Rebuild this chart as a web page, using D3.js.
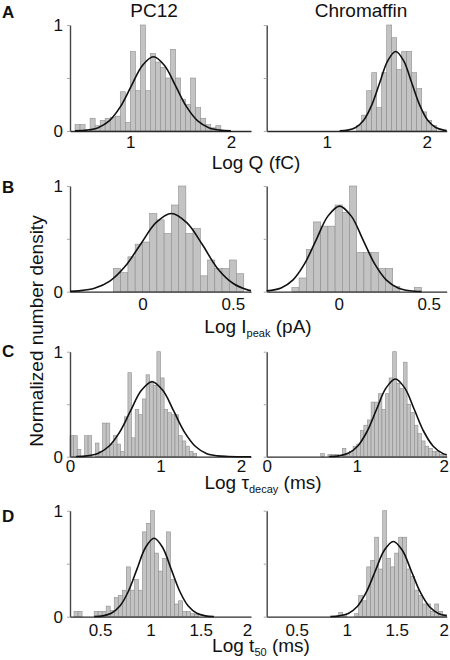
<!DOCTYPE html>
<html><head><meta charset="utf-8">
<script src="https://cdn.jsdelivr.net/npm/d3@7"></script>
<style>
body{margin:0;background:#fff}
svg{display:block}
text{font-family:"Liberation Sans",Arial,Helvetica,sans-serif;fill:#111}
</style>
</head><body>
<svg id="chart" width="450" height="660"></svg>
<script>
// ---------------- DATA ----------------
const cellTypes = ["PC12", "Chromaffin"];
const panelLetters = ["A", "B", "C", "D"];
const xDomains = [[0.4, 2.2], [-0.4, 0.6], [0, 2], [0.2, 2.0]];
const xTickValues = [[1, 2], [0, 0.5], [0, 1, 2], [0.5, 1, 1.5, 2]];
const yTickValues = [0, 0.5, 1];
const yTickLabels = ["0", "", "1"];
const binWidths = [0.05, 0.04, 0.04, 0.04];

// histogram bins: [bin start, normalized density]
const pc12Q = [[0.45,0.06],[0.50,0.06],[0.60,0.12],[0.65,0.05],[0.70,0.10],[0.75,0.12],[0.80,0.13],[0.85,0.14],[0.90,0.37],[0.95,0.08],[1.00,0.75],[1.05,0.38],[1.10,1.0],[1.15,0.38],[1.20,0.73],[1.25,0.65],[1.30,0.6],[1.35,0.5],[1.40,0.77],[1.45,0.5],[1.50,0.3],[1.55,0.25],[1.60,0.5],[1.65,0.22],[1.70,0.12],[1.75,0.06],[1.80,0.03],[1.85,0.05]];
const chromQ = [[1.30,0.05],[1.35,0.15],[1.40,0.38],[1.45,0.55],[1.50,0.22],[1.55,0.55],[1.60,1.0],[1.65,0.88],[1.70,0.58],[1.75,0.75],[1.80,0.75],[1.85,0.55],[1.90,0.40],[1.95,0.18],[2.00,0.10],[2.05,0.05]];
const pc12I = [[-0.16,0.22],[-0.12,0.18],[-0.08,0.33],[-0.04,0.45],[0.00,0.47],[0.04,0.74],[0.08,0.68],[0.12,0.55],[0.16,0.82],[0.20,1.0],[0.24,0.55],[0.28,0.6],[0.32,0.15],[0.36,0.3],[0.40,0.22],[0.44,0.22],[0.48,0.3],[0.52,0.17]];
const chromI = [[-0.26,0.04],[-0.22,0.13],[-0.18,0.40],[-0.14,0.66],[-0.10,0.62],[-0.06,0.62],[-0.02,0.82],[0.02,0.75],[0.06,1.0],[0.10,0.37],[0.14,0.37],[0.18,0.37],[0.22,0.22],[0.26,0.22],[0.30,0.05],[0.42,0.04]];
const pc12Decay = [[0.00,0.2],[0.04,0.2],[0.08,0.07],[0.16,0.2],[0.20,0.2],[0.28,0.13],[0.32,0.05],[0.36,0.32],[0.40,0.32],[0.44,0.12],[0.48,0.2],[0.52,0.12],[0.56,0.05],[0.60,0.38],[0.64,0.8],[0.68,0.18],[0.72,0.45],[0.76,0.4],[0.80,0.55],[0.84,0.78],[0.88,0.72],[0.92,0.68],[0.96,1.0],[1.00,0.75],[1.04,0.45],[1.08,0.42],[1.12,0.4],[1.16,0.4],[1.20,0.2],[1.24,0.15],[1.28,0.1],[1.32,0.05],[1.36,0.03]];
const chromDecay = [[0.60,0.03],[0.68,0.02],[0.72,0.02],[0.76,0.02],[0.84,0.08],[0.88,0.03],[0.92,0.05],[0.96,0.1],[1.00,0.12],[1.04,0.25],[1.08,0.3],[1.12,0.35],[1.16,0.52],[1.20,0.52],[1.24,0.6],[1.28,0.45],[1.32,0.6],[1.36,0.75],[1.40,1.0],[1.44,0.7],[1.48,0.65],[1.52,0.9],[1.56,0.5],[1.60,0.42],[1.64,0.3],[1.68,0.22],[1.72,0.15],[1.76,0.1],[1.80,0.08],[1.84,0.05],[1.88,0.05],[1.92,0.02],[1.96,0.02]];
const pc12T50 = [[0.24,0.05],[0.28,0.05],[0.44,0.05],[0.48,0.05],[0.52,0.05],[0.56,0.1],[0.60,0.06],[0.64,0.18],[0.68,0.2],[0.72,0.25],[0.76,0.47],[0.80,0.25],[0.84,0.35],[0.88,0.25],[0.92,0.8],[0.96,0.88],[1.00,1.0],[1.04,0.6],[1.08,0.43],[1.12,0.55],[1.16,0.8],[1.20,0.35],[1.24,0.12],[1.28,0.15],[1.32,0.05],[1.36,0.05],[1.40,0.03],[1.44,0.02]];
const chromT50 = [[0.92,0.04],[0.96,0.02],[1.08,0.03],[1.12,0.2],[1.16,0.15],[1.20,0.47],[1.24,0.53],[1.28,0.75],[1.32,0.45],[1.36,1.0],[1.40,0.55],[1.44,0.47],[1.48,0.6],[1.52,0.75],[1.56,0.75],[1.60,0.45],[1.64,0.38],[1.68,0.25],[1.72,0.2],[1.76,0.12],[1.80,0.12],[1.84,0.05],[1.88,0.12],[1.92,0.05],[1.96,0.02]];

// fitted curves: [x, y]
const fitPc12Q = [[0.45,0.001],[0.57,0.008],[0.68,0.031],[0.79,0.095],[0.90,0.227],[1.01,0.425],[1.12,0.618],[1.23,0.70],[1.34,0.618],[1.45,0.425],[1.56,0.227],[1.67,0.095],[1.78,0.031],[1.89,0.008],[2.00,0.001]];
const fitChromQ = [[1.13,0.002],[1.21,0.008],[1.29,0.033],[1.37,0.101],[1.45,0.244],[1.53,0.455],[1.61,0.662],[1.69,0.75],[1.77,0.662],[1.85,0.455],[1.93,0.244],[2.01,0.101],[2.09,0.033],[2.17,0.008],[2.2,0.005]];
const fitPc12I = [[-0.4,0.003],[-0.35,0.008],[-0.265,0.032],[-0.18,0.10],[-0.095,0.24],[-0.01,0.449],[0.075,0.653],[0.16,0.74],[0.245,0.653],[0.33,0.449],[0.415,0.22],[0.50,0.08],[0.585,0.015],[0.6,0.01]];
const fitChromI = [[-0.4,0.008],[-0.32,0.036],[-0.255,0.11],[-0.19,0.263],[-0.125,0.491],[-0.06,0.715],[0.005,0.81],[0.07,0.715],[0.135,0.491],[0.20,0.263],[0.265,0.11],[0.33,0.036],[0.395,0.009],[0.46,0.002]];
const fitPc12Decay = [[0.067,0.002],[0.187,0.008],[0.307,0.031],[0.427,0.097],[0.547,0.232],[0.667,0.433],[0.787,0.63],[0.907,0.714],[1.027,0.63],[1.147,0.433],[1.267,0.232],[1.387,0.097],[1.507,0.031],[1.627,0.008],[1.747,0.002],[2.0,0.0]];
const fitChromDecay = [[0.695,0.002],[0.80,0.008],[0.905,0.032],[1.01,0.10],[1.115,0.24],[1.22,0.449],[1.325,0.653],[1.43,0.74],[1.535,0.653],[1.64,0.449],[1.745,0.24],[1.85,0.10],[1.955,0.032],[2.0,0.019]];
const fitPc12T50 = [[0.441,0.002],[0.526,0.008],[0.611,0.032],[0.696,0.10],[0.781,0.24],[0.866,0.449],[0.951,0.653],[1.036,0.74],[1.121,0.653],[1.206,0.449],[1.291,0.24],[1.376,0.10],[1.461,0.032],[1.546,0.008],[1.631,0.002]];
const fitChromT50 = [[0.836,0.002],[0.926,0.008],[1.016,0.031],[1.106,0.096],[1.196,0.231],[1.286,0.431],[1.376,0.627],[1.466,0.71],[1.556,0.627],[1.646,0.431],[1.736,0.231],[1.826,0.096],[1.916,0.031],[2.0,0.009]];

const histograms = [[pc12Q, chromQ],[pc12I, chromI],[pc12Decay, chromDecay],[pc12T50, chromT50]];
const fits = [[fitPc12Q, fitChromQ],[fitPc12I, fitChromI],[fitPc12Decay, fitChromDecay],[fitPc12T50, fitChromT50]];

// ---------------- LAYOUT ----------------
const colRanges = [[70, 251], [266.7, 446.7]];
const rowY = [[131, 25], [291.7, 186], [456.7, 351.7], [616.7, 510.7]];
const tickPad = [5, 6, 3, 7];
const lastTickDx = [[0, 0], [0, 0], [-10, -3], [-4, -3]];
const xLabelPos = [[256, 169], [258, 333], [263, 489], [261, 652]];
const letterBase = [18.3, 193.3, 356.7, 521.7];

const svg = d3.select("#chart");

// titles
svg.append("text").attr("x", 154).attr("y", 17).attr("text-anchor", "middle").attr("font-size", 19).text(cellTypes[0]);
svg.append("text").attr("x", 361).attr("y", 17).attr("text-anchor", "middle").attr("font-size", 19).text(cellTypes[1]);

// y label
svg.append("text").attr("transform", "translate(43,331) rotate(-90)").attr("text-anchor", "middle")
  .attr("font-size", 19).text("Normalized number density");

const line = d3.line().curve(d3.curveCatmullRom.alpha(0.5));

for (let r = 0; r < 4; r++) {
  svg.append("text").attr("x", 2).attr("y", letterBase[r]).attr("font-size", 17)
    .attr("font-weight", "bold").text(panelLetters[r]);
  for (let c = 0; c < 2; c++) {
    const x = d3.scaleLinear().domain(xDomains[r]).range(colRanges[c]);
    const y = d3.scaleLinear().domain([0, 1]).range(rowY[r]);
    const g = svg.append("g");
    const w = binWidths[r];
    g.selectAll("rect").data(histograms[r][c]).join("rect")
      .attr("x", d => x(d[0]))
      .attr("width", d => x(d[0] + w) - x(d[0]))
      .attr("y", d => y(d[1]))
      .attr("height", d => y(0) - y(d[1]))
      .attr("fill", "#c3c3c3")
      .attr("stroke", "#8e8e8e")
      .attr("stroke-width", 0.6);

    // x axis
    const xa = g.append("g").attr("transform", `translate(0,${y(0)})`)
      .call(d3.axisBottom(x).tickValues(xTickValues[r]).tickSize(0).tickSizeOuter(0)
        .tickPadding(tickPad[r]).tickFormat(d => String(d)));
    xa.select(".domain").attr("stroke", "#2a2a2a").attr("stroke-width", 1.3);
    const xt = xa.selectAll("text").attr("font-size", 17)
      .attr("font-family", '"Liberation Sans",Arial,sans-serif').attr("fill", "#111");
    const last = xt.nodes()[xt.size() - 1];
    d3.select(last).attr("dx", lastTickDx[r][c]);

    // y axis
    const ya = g.append("g").attr("transform", `translate(${colRanges[c][0]},0)`)
      .call(d3.axisLeft(y).tickValues(yTickValues).tickSize(3).tickSizeOuter(0).tickPadding(4)
        .tickFormat((d, i) => c === 0 ? yTickLabels[i] : ""));
    ya.select(".domain").attr("stroke", "#444").attr("stroke-width", 1.4);
    ya.selectAll("line").attr("stroke", "#aaa");
    ya.selectAll("text").attr("font-size", 17)
      .attr("font-family", '"Liberation Sans",Arial,sans-serif').attr("fill", "#111");

    // fit
    g.append("path").datum(fits[r][c].map(p => [x(p[0]), y(p[1])]))
      .attr("d", line).attr("fill", "none").attr("stroke", "#111").attr("stroke-width", 1.6);
  }
}

// x labels
const xl = [
  {main: "Log Q (fC)"},
  {pre: "Log I", sub: "peak", post: " (pA)"},
  {pre: "Log \u03C4", sub: "decay", post: " (ms)"},
  {pre: "Log t", sub: "50", post: " (ms)"}
];
xl.forEach((d, r) => {
  const t = svg.append("text").attr("x", xLabelPos[r][0]).attr("y", xLabelPos[r][1])
    .attr("text-anchor", "middle").attr("font-size", 19);
  if (d.main) { t.text(d.main); return; }
  t.append("tspan").text(d.pre);
  t.append("tspan").attr("font-size", 11).attr("dy", 4).text(d.sub);
  t.append("tspan").attr("dy", -4).text(d.post);
});
</script>
</body></html>
